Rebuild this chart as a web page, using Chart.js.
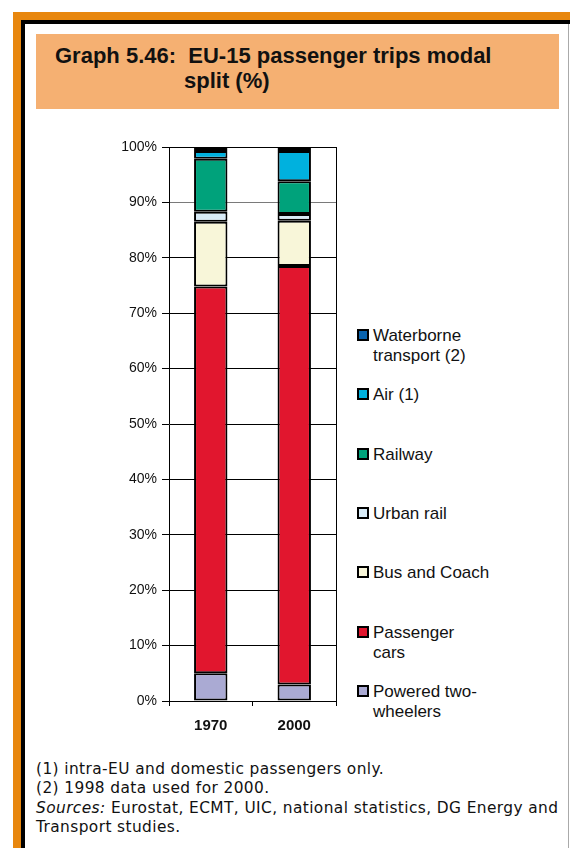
<!DOCTYPE html>
<html>
<head>
<meta charset="utf-8">
<script src="https://cdn.jsdelivr.net/npm/chart.js@4/dist/chart.umd.min.js"></script>
<style>
body{margin:0;width:570px;height:848px;position:relative;background:#fff;overflow:hidden;font-family:"Liberation Sans",Arial,sans-serif;}
.bar{position:absolute;}
#title{position:absolute;left:36px;top:34px;width:523px;height:75px;background:#f5b072;}
#title span{position:absolute;font-weight:bold;font-size:22px;line-height:22px;color:#111;white-space:nowrap;}
#chartBox{position:absolute;left:100px;top:130px;width:250px;height:620px;}
#legend .item{position:absolute;left:357px;}
#legend .box{position:absolute;left:0;top:0;width:12px;height:12px;box-sizing:border-box;border:2px solid #000;}
#legend .txt{position:absolute;left:16px;top:-3px;font-size:17px;line-height:20px;color:#111;white-space:nowrap;}
#notes{position:absolute;left:36px;top:760px;font-family:"DejaVu Sans",sans-serif;font-size:15.4px;line-height:19.4px;letter-spacing:0.4px;color:#111;white-space:nowrap;}
</style>
</head>
<body>

<!-- cadre orange / noir -->
<div class="bar" style="left:13px;top:12px;width:557px;height:8px;background:#e8870e;"></div>
<div class="bar" style="left:13px;top:12px;width:8px;height:836px;background:#e8870e;"></div>
<div class="bar" style="left:21px;top:20px;width:549px;height:4px;background:#000;"></div>
<div class="bar" style="left:21px;top:20px;width:4px;height:828px;background:#000;"></div>
<div class="bar" style="left:568px;top:24px;width:1px;height:824px;background:#aaa;"></div>

<div id="title">
  <span style="left:19px;top:11px;">Graph 5.46:&nbsp; EU-15 passenger trips modal</span>
  <span style="left:148px;top:36px;">split (%)</span>
</div>

<div id="chartBox"><canvas id="modalChart" width="250" height="620"></canvas></div>
<div id="legend"></div>

<div id="notes">
(1) intra-EU and domestic passengers only.<br>
(2) 1998 data used for 2000.<br>
<i>Sources:</i> Eurostat, ECMT, UIC, national statistics, DG Energy and<br>
Transport studies.
</div>

<script>
// categories
var years = ['1970', '2000'];

// parts en %
var twoWheelers = [5.0, 3.0];
var passengerCars = [69.8, 75.5];
var busCoach = [11.7, 8.2];
var urbanRail = [1.8, 1.2];
var railway = [9.6, 5.9];
var air = [1.4, 5.5];
var waterborne = [0.7, 0.7];

var yTicks = [0, 10, 20, 30, 40, 50, 60, 70, 80, 90, 100];

function makeSet(label, data, color) {
  return {
    label: label,
    data: data,
    backgroundColor: color,
    borderColor: '#000',
    borderWidth: 2,
    borderSkipped: false,
    barPercentage: 0.4,
    categoryPercentage: 1.0
  };
}

var datasets = [
  makeSet(['Powered two-', 'wheelers'], twoWheelers, '#aaaad3'),
  makeSet(['Passenger', 'cars'], passengerCars, '#e1162e'),
  makeSet(['Bus and Coach'], busCoach, '#f8f6d9'),
  makeSet(['Urban rail'], urbanRail, '#d8ebf7'),
  makeSet(['Railway'], railway, '#00a27b'),
  makeSet(['Air (1)'], air, '#00b1de'),
  makeSet(['Waterborne', 'transport (2)'], waterborne, '#0a63ad')
];

var chart = new Chart(document.getElementById('modalChart'), {
  type: 'bar',
  data: { labels: years, datasets: datasets },
  options: {
    responsive: false,
    animation: false,
    layout: { padding: { top: 17, right: 14, left: 0, bottom: 0 } },
    plugins: { legend: { display: false }, tooltip: { enabled: false } },
    scales: {
      x: {
        stacked: true,
        offset: true,
        afterFit: function (s) { s.height = 49; },
        grid: {
          offset: true,
          drawOnChartArea: true,
          lineWidth: 1,
          color: function (ctx) { return ctx.type === 'scale' ? '#000' : 'rgba(0,0,0,0)'; },
          tickColor: '#000',
          tickLength: 5
        },
        border: { display: true, color: '#000', width: 1 },
        ticks: {
          color: '#111',
          padding: 11,
          font: { family: '"Liberation Sans", Arial, sans-serif', size: 15, weight: 'bold' }
        }
      },
      y: {
        stacked: true,
        min: 0,
        max: 100,
        afterFit: function (s) { s.width = 69; },
        afterBuildTicks: function (s) {
          s.ticks = yTicks.map(function (v) { return { value: v }; });
        },
        grid: {
          lineWidth: 1,
          color: function (ctx) { return ctx.tick && ctx.tick.value === 90 ? '#7a7a7a' : '#000'; },
          tickColor: '#000',
          tickLength: 7
        },
        border: { display: true, color: '#000', width: 1 },
        ticks: {
          color: '#111',
          padding: 5,
          font: { family: '"Liberation Sans", Arial, sans-serif', size: 14 },
          callback: function (v) { return v + '%'; }
        }
      }
    }
  }
});

// legende a droite, de haut en bas (ordre inverse des series)
function buildLegend() {
  var box = document.getElementById('legend');
  var html = '';
  var n = 0;
  for (var i = datasets.length - 1; i >= 0; i--) {
    var top = 335 + n * 59.3 - 6;
    html += '<div class="item" style="top:' + top + 'px">' +
      '<span class="box" style="background:' + datasets[i].backgroundColor + '"></span>' +
      '<span class="txt">' + datasets[i].label.join('<br>') + '</span></div>';
    n++;
  }
  box.innerHTML = html;
}
buildLegend();
</script>
</body>
</html>
